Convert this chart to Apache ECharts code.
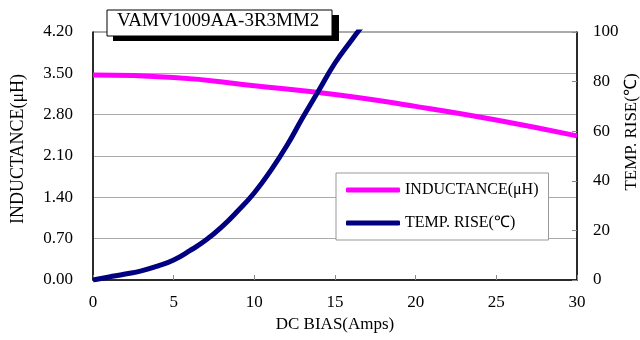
<!DOCTYPE html>
<html>
<head>
<meta charset="utf-8">
<script src="https://cdn.jsdelivr.net/npm/echarts@6/dist/echarts.min.js"></script>
<style>
  html, body { margin: 0; padding: 0; background: #fff; }
  #chart { width: 640px; height: 340px; }
</style>
</head>
<body>
<div id="chart"></div>
<script>
// inductance vs DC bias
const biasL = [0, 5, 10, 15, 20, 25, 30]
const inductance = [3.47, 3.43, 3.29, 3.14, 2.94, 2.71, 2.44]

// temperature rise vs DC bias (goes above 100, clipped by axis)
const biasT = [0, 1, 2, 3, 4, 5, 6, 7, 8, 9, 10, 11, 12, 13, 14, 15, 16, 17]
const tempRise = [0, 1.2, 2.4, 3.7, 5.6, 8.1, 11.8, 16.1, 21.5, 28, 35.2, 44, 54, 65.5, 76.5, 87.5, 96.5, 105]

const xTicks = { min: 0, max: 30, interval: 5 }
const leftTicks = { min: 0, max: 4.2, interval: 0.7 }
const rightTicks = { min: 0, max: 100, interval: 20 }

const font = "'Liberation Serif', 'Times New Roman', serif"

const chart = echarts.init(document.getElementById('chart'))

chart.setOption({
  backgroundColor: '#fff',
  animation: false,
  textStyle: { fontFamily: font, color: '#000' },
  grid: {
    left: 93,
    right: 63,
    top: 32,
    bottom: 60,
    outerBoundsMode: 'none',
    containLabel: false,
    show: true,
    borderColor: '#555',
    borderWidth: 1
  },
  graphic: [
    // title box with drop shadow
    {
      type: 'rect',
      shape: { x: 113, y: 15, width: 226, height: 26 },
      style: { fill: '#000' },
      z: 100
    },
    {
      type: 'rect',
      shape: { x: 107, y: 10, width: 225, height: 26 },
      style: { fill: '#fff', stroke: '#000', lineWidth: 1 },
      z: 101
    },
    {
      type: 'text',
      left: 117,
      top: 12,
      style: { text: 'VAMV1009AA-3R3MM2', font: '19px ' + font, fill: '#000' },
      z: 102
    }
  ],
  legend: {
    orient: 'vertical',
    left: 336,
    top: 173,
    padding: [9, 10, 9, 10],
    itemGap: 17,
    itemWidth: 54,
    itemHeight: 5,
    icon: 'roundRect',
    borderColor: '#999',
    borderWidth: 1,
    backgroundColor: '#fff',
    textStyle: { fontFamily: font, fontSize: 16, color: '#000' },
    data: ['INDUCTANCE(μH)', 'TEMP. RISE(℃)']
  },
  xAxis: {
    type: 'value',
    min: xTicks.min,
    max: xTicks.max,
    interval: xTicks.interval,
    name: 'DC BIAS(Amps)',
    nameLocation: 'middle',
    nameGap: 36,
    nameTextStyle: { fontFamily: font, fontSize: 17, color: '#000' },
    axisLine: { lineStyle: { color: '#000', width: 1.5 } },
    axisTick: { inside: true, length: 5, lineStyle: { color: '#888' } },
    axisLabel: { fontFamily: font, fontSize: 17, color: '#000', margin: 14 },
    splitLine: { show: false }
  },
  yAxis: [
    {
      type: 'value',
      position: 'left',
      min: leftTicks.min,
      max: leftTicks.max,
      interval: leftTicks.interval,
      name: 'INDUCTANCE(μH)',
      nameLocation: 'middle',
      nameRotate: 90,
      nameGap: 66,
      nameTextStyle: { fontFamily: font, fontSize: 18, color: '#000', padding: [0, 0, 0, 14] },
      axisLine: { show: true, lineStyle: { color: '#000', width: 1.5 } },
      axisTick: { show: false },
      axisLabel: {
        fontFamily: font, fontSize: 17, color: '#000', margin: 20,
        formatter: v => v.toFixed(2)
      },
      splitLine: { show: true, lineStyle: { color: '#aaa', width: 1 } }
    },
    {
      type: 'value',
      position: 'right',
      min: rightTicks.min,
      max: rightTicks.max,
      interval: rightTicks.interval,
      name: 'TEMP. RISE(℃)',
      nameLocation: 'middle',
      nameRotate: 90,
      nameGap: 46,
      nameMoveOverlap: false,
      nameTextStyle: { fontFamily: font, fontSize: 17, color: '#000', padding: [0, 0, 0, 48] },
      axisLine: { show: true, lineStyle: { color: '#000', width: 1.5 } },
      axisTick: { inside: true, length: 5, lineStyle: { color: '#888' } },
      axisLabel: { fontFamily: font, fontSize: 17, color: '#000', margin: 16 },
      splitLine: { show: false }
    }
  ],
  series: [
    {
      name: 'INDUCTANCE(μH)',
      type: 'line',
      yAxisIndex: 0,
      smooth: true,
      showSymbol: false,
      color: '#ff00ff',
      lineStyle: { width: 5, color: '#ff00ff' },
      data: biasL.map((x, i) => [x, inductance[i]])
    },
    {
      name: 'TEMP. RISE(℃)',
      type: 'line',
      yAxisIndex: 1,
      smooth: true,
      showSymbol: false,
      clip: true,
      color: '#000080',
      lineStyle: { width: 5, color: '#000080' },
      data: biasT.map((x, i) => [x, tempRise[i]])
    }
  ]
})
</script>
</body>
</html>
